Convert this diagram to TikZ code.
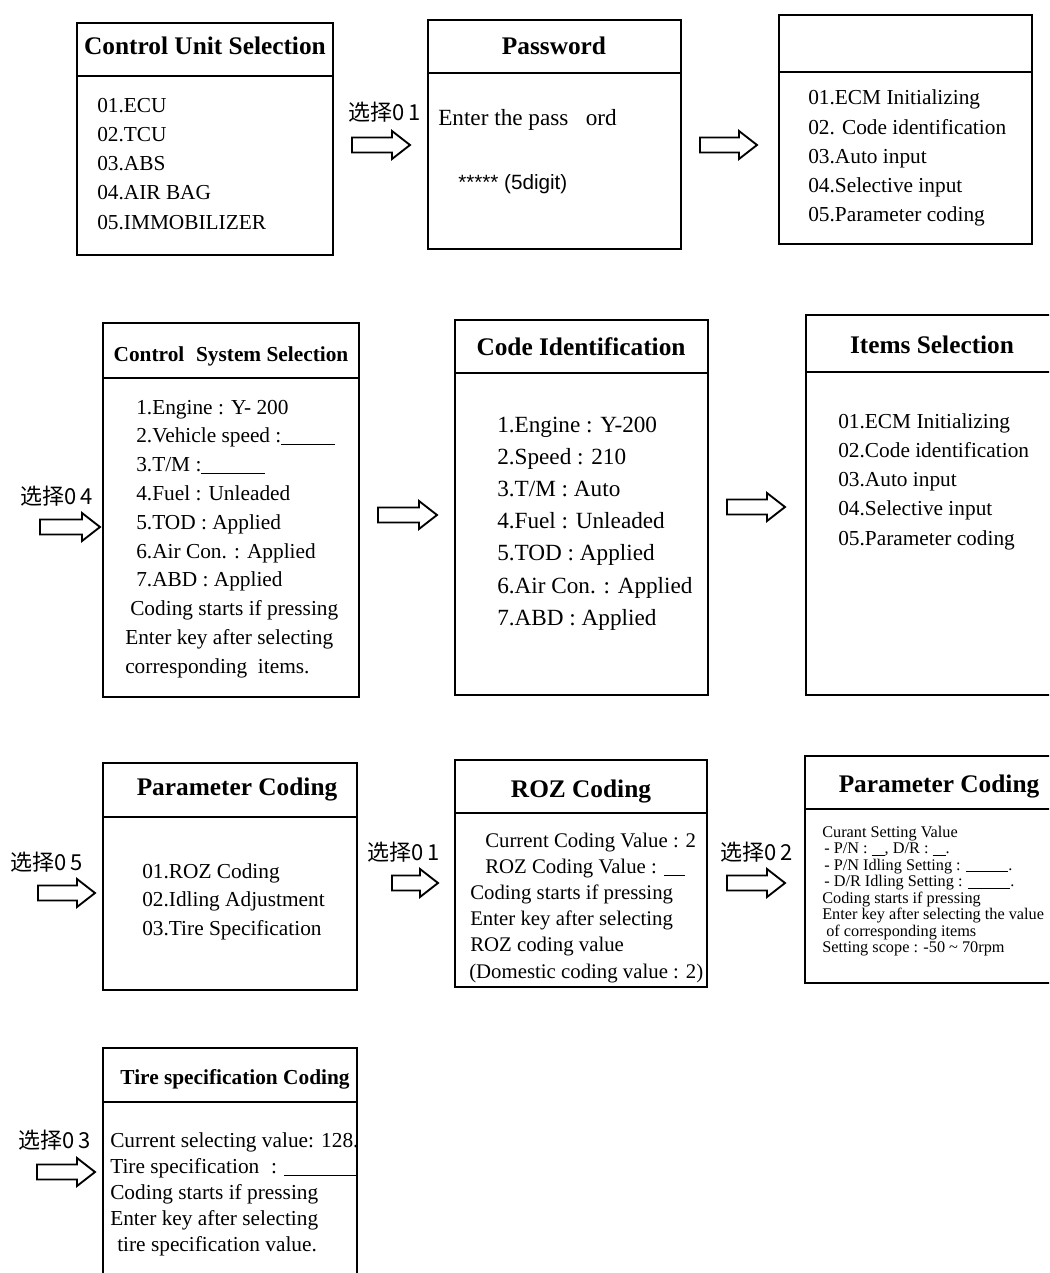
\documentclass[tikz,border=0pt]{standalone}
\usepackage{fontspec}
\setmainfont{Liberation Serif}
\newfontfamily\cjk{Noto Sans CJK SC}
\newfontfamily\sansf{Liberation Sans}
\newcommand\blank[1]{\rule[-0.12em]{#1}{0.05em}}
\newcommand\blkarrow[3]{% x-left, x-right, y-center
  \draw[blockarr] (#1,{#3-7.5}) -- ({#2-18},{#3-7.5}) -- ({#2-18},{#3-14}) -- (#2,#3)
   -- ({#2-18},{#3+14}) -- ({#2-18},{#3+7.5}) -- (#1,{#3+7.5}) -- cycle;}
\tikzset{
  boxline/.style={line width=1.3pt, black},
  blockarr/.style={line width=1.4pt, black, line join=miter},
  txt/.style={font=\fontsize{16}{19}\selectfont, inner sep=0pt, anchor=base west},
  txtbig/.style={font=\fontsize{17.4}{20}\selectfont, inner sep=0pt, anchor=base west},
  txtmid/.style={font=\fontsize{15.6}{19}\selectfont, inner sep=0pt, anchor=base west},
  txtsmall/.style={font=\fontsize{12.2}{14}\selectfont, inner sep=0pt, anchor=base west},
  ttl/.style={font=\fontsize{19}{22}\selectfont\bfseries, inner sep=0pt, anchor=base},
  ttlsmall/.style={font=\fontsize{16}{19}\selectfont\bfseries, inner sep=0pt, anchor=base},
  sel/.style={font=\fontsize{16.5}{19}\selectfont\cjk, inner sep=0pt, anchor=west},
}
\newcommand\selnum[2]{选择#1\hspace{3pt}#2}
\begin{document}
\begin{tikzpicture}[x=0.75pt, y=-0.75pt]
\useasboundingbox (0,0) rectangle (1049,1273);
\fill[white] (0,0) rectangle (1049,1273);
\clip (0,0) rectangle (1049,1273);

% ---------- Row 1 ----------
% Box 1: Control Unit Selection
\draw[boxline] (77,23) rectangle (333,255);
\draw[boxline] (77,76) -- (333,76);
\node[ttl] (t1) at (205,55) {Control Unit Selection};
\foreach \t [count=\i] in {{01.ECU},{02.TCU},{03.ABS},{04.AIR BAG},{05.IMMOBILIZER}}
  \node[txt] (cu\i) at (97,{113+29*(\i-1)}) {\t};

% Arrow 01
\node[sel] (s1) at (348,112) {\selnum{0}{1}};
\blkarrow{352}{410}{145}

% Box 2: Password
\draw[boxline] (428,20) rectangle (681,249);
\draw[boxline] (428,73) -- (681,73);
\node[ttl] (t2) at (554,55) {Password};
\node[txtbig] (pw1) at (438,126) {Enter the pass\hspace{0.75em}ord};
\node[txt, font=\fontsize{15.5}{18}\selectfont\sansf] (pw2) at (458,190) {***** (5digit)};

% Arrow
\blkarrow{700}{757}{145}

% Box 3
\draw[boxline] (779,15) rectangle (1032,244);
\draw[boxline] (779,72) -- (1032,72);
\foreach \t [count=\i] in {{01.ECM Initializing},{02. Code identification},{03.Auto input},{04.Selective input},{05.Parameter coding}}
  \node[txt] (m\i) at (808,{105+29.25*(\i-1)}) {\t};

% ---------- Row 2 ----------
% Arrow 04
\node[sel] (s4) at (20,496) {\selnum{0}{4}};
\blkarrow{40}{100}{527}

% Box 4: Control System Selection
\draw[boxline] (103,323) rectangle (359,697);
\draw[boxline] (103,378) -- (359,378);
\node[ttlsmall] (t4) at (231,361) {Control\hspace{0.3em} System Selection};
\foreach \t/\xx [count=\i] in {{1.Engine : Y- 200}/136,{2.Vehicle speed :\blank{2.5em}}/136,{3.T/M :\blank{3em}}/136,{4.Fuel : Unleaded}/136,{5.TOD : Applied}/136,{6.Air Con. : Applied}/136,{7.ABD : Applied}/136,{Coding starts if pressing}/130,{Enter key after selecting}/125,{corresponding\hspace{0.25em} items.}/125}
  \node[txt] (cs\i) at (\xx,{414+28.8*(\i-1)}) {\t};

% Arrow
\blkarrow{378}{437}{515}

% Box 5: Code Identification
\draw[boxline] (455,320) rectangle (708,695);
\draw[boxline] (455,373) -- (708,373);
\node[ttl] (t5) at (581,355) {Code Identification};
\foreach \t [count=\i] in {{1.Engine : Y-200},{2.Speed : 210},{3.T/M : Auto},{4.Fuel : Unleaded},{5.TOD : Applied},{6.Air Con. : Applied},{7.ABD : Applied}}
  \node[txtbig] (ci\i) at (497,{432+32.2*(\i-1)}) {\t};

% Arrow
\blkarrow{727}{785}{507}

% Box 6: Items Selection
\draw[boxline] (806,315) rectangle (1060,695);
\draw[boxline] (806,372) -- (1060,372);
\node[ttl] (t6) at (932,353) {Items Selection};
\foreach \t [count=\i] in {{01.ECM Initializing},{02.Code identification},{03.Auto input},{04.Selective input},{05.Parameter coding}}
  \node[txt] (is\i) at (838,{428+29.25*(\i-1)}) {\t};

% ---------- Row 3 ----------
% Arrow 05
\node[sel] (s5) at (10,862) {\selnum{0}{5}};
\blkarrow{38}{95}{893}

% Box 7: Parameter Coding
\draw[boxline] (103,763) rectangle (357,990);
\draw[boxline] (103,817) -- (357,817);
\node[ttl] (t7) at (237,795) {Parameter Coding};
\foreach \t [count=\i] in {{01.ROZ Coding},{02.Idling Adjustment},{03.Tire Specification}}
  \node[txt] (pc\i) at (142,{878+28.5*(\i-1)}) {\t};

% Arrow 01
\node[sel] (s6) at (367,852) {\selnum{0}{1}};
\blkarrow{392}{438}{883}

% Box 8: ROZ Coding
\draw[boxline] (455,760) rectangle (707,987);
\draw[boxline] (455,813) -- (707,813);
\node[ttl] (t8) at (581,797) {ROZ Coding};
\foreach \t/\xx [count=\i] in {{Current Coding Value : 2}/485,{ROZ Coding Value : \blank{1em}}/485,{Coding starts if pressing}/470,{Enter key after selecting}/470,{ROZ coding value}/470,{(Domestic coding value : 2)}/469}
  \node[txtmid] (rz\i) at (\xx,{847+26.2*(\i-1)}) {\t};

% Arrow 02
\node[sel] (s7) at (720,852) {\selnum{0}{2}};
\blkarrow{727}{785}{883}

% Box 9: Parameter Coding (right)
\draw[boxline] (805,756) rectangle (1060,983);
\draw[boxline] (805,809) -- (1060,809);
\node[ttl] (t9) at (939,792) {Parameter Coding};
\foreach \t/\xx [count=\i] in {{Curant Setting Value}/822,{- P/N : \blank{0.8em}, D/R : \blank{0.8em}.}/824,{- P/N Idling Setting : \blank{2.6em}.}/824,{- D/R Idling Setting : \blank{2.6em}.}/824,{Coding starts if pressing}/822,{Enter key after selecting the value}/822,{of corresponding items}/826,{Setting scope : -50 \textasciitilde{} 70rpm}/822}
  \node[txtsmall] (pr\i) at (\xx,{837+16.5*(\i-1)}) {\t};

% ---------- Row 4 ----------
% Arrow 03
\node[sel] (s3) at (18,1140) {\selnum{0}{3}};
\blkarrow{37}{95}{1172}

% Box 10: Tire specification Coding
\draw[boxline] (103,1048) rectangle (357,1290);
\draw[boxline] (103,1102) -- (357,1102);
\node[ttlsmall] (t10) at (235,1084) {Tire specification Coding};
\foreach \t/\xx [count=\i] in {{Current selecting value: 128.}/110,{Tire specification\hspace{0.3em} : \blank{3.4em}}/110,{Coding starts if pressing}/110,{Enter key after selecting}/110,{tire specification value.}/117}
  \node[txt] (ts\i) at (\xx,{1147+26.2*(\i-1)}) {\t};
\end{tikzpicture}
\end{document}
